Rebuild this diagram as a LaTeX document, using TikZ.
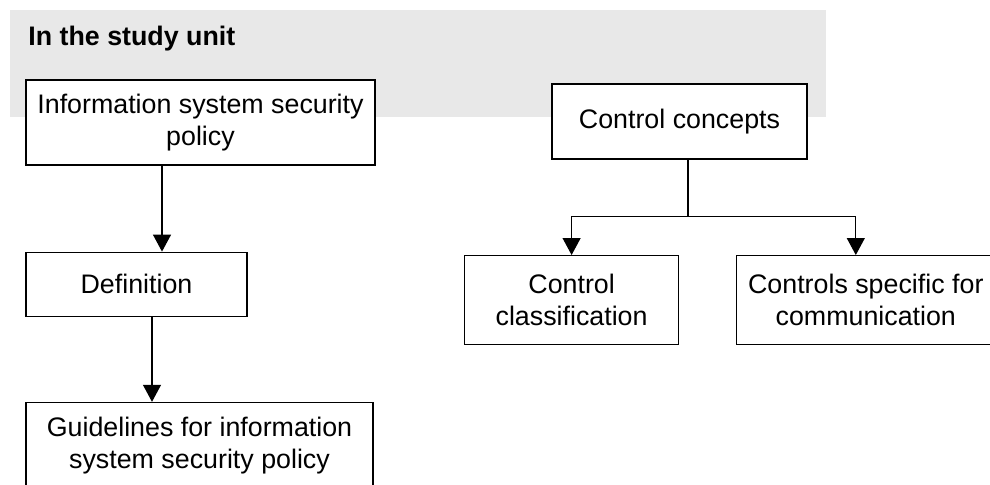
\documentclass[tikz,border=0pt]{standalone}
\usepackage{fontspec}
\setmainfont{Liberation Sans}
\usetikzlibrary{arrows.meta,positioning}

\begin{document}
\begin{tikzpicture}[
    box/.style={
        rectangle,
        draw=black,
        fill=white,
        line width=0.6pt,
        align=center,
        inner sep=0pt,
        font=\fontsize{13.4}{16}\selectfont
    },
    title/.style={
        font=\fontsize{13.4}{16}\selectfont\bfseries,
        inner sep=0pt
    },
    arrow/.style={-{Triangle[length=8.5pt, width=9pt]}, line width=0.6pt}
]

\useasboundingbox (0,0) rectangle (495pt,-242pt);

% grey band behind the heading
\fill[gray!18] (5pt,-5pt) rectangle (413pt,-58.5pt);
\node[title, anchor=base west] (head) at (14pt,-22.5pt) {In the study unit};

% left column
\node[box, minimum width=174.5pt, minimum height=42.5pt] (pol) at (100.25pt,-61.25pt)
    {Information system security\\policy};
\node[box, below=43pt of pol.south west, anchor=north west,
      minimum width=110.5pt, minimum height=32pt] (def) {Definition};
\node[box, below=42.5pt of def.south west, anchor=north west,
      minimum width=173.5pt, minimum height=43pt] (gui)
    {Guidelines for information\\system security policy};

\draw[arrow] ([xshift=-19.25pt]pol.south) -- ([xshift=-19.25pt]pol.south |- def.north);
\draw[arrow] ([xshift=7.75pt]def.south) -- ([xshift=7.75pt]def.south |- gui.north);

% right column
\node[box, minimum width=127.5pt, minimum height=37.5pt] (con) at (339.75pt,-60.75pt)
    {Control concepts};
\node[box, anchor=north west, minimum width=107pt, minimum height=44.5pt] (cls)
    at (232pt,-127.5pt) {Control\\classification};
\node[box, right=28.5pt of cls, minimum width=129pt, minimum height=44.5pt] (com)
    {Controls specific for\\communication};

\coordinate (fork) at ([xshift=4.25pt,yshift=-28.5pt]con.south);
\draw[line width=0.6pt] ([xshift=4.25pt]con.south) -- (fork);
\draw[arrow] (fork) -| (cls.north);
\draw[arrow] (fork) -| ([xshift=-5pt]com.north);

\end{tikzpicture}
\end{document}
